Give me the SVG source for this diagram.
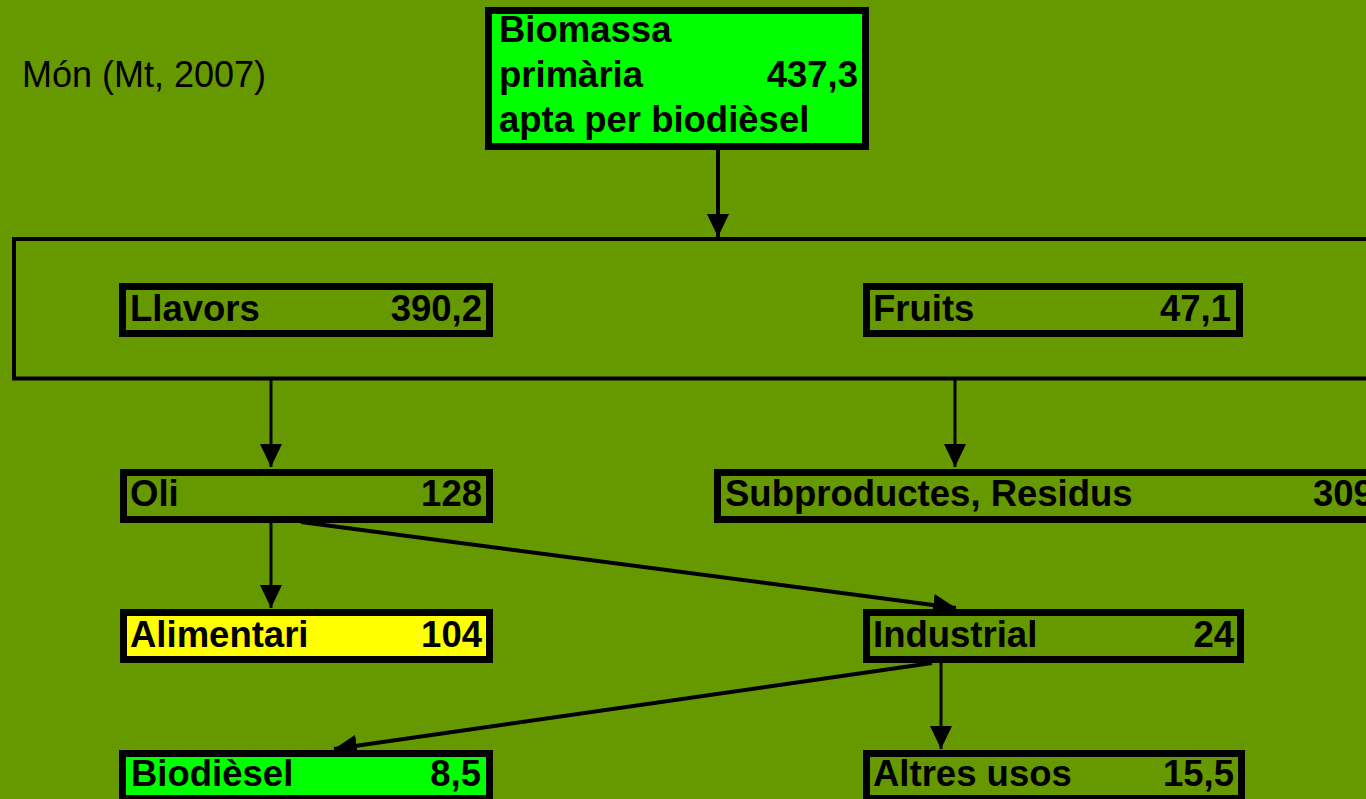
<svg xmlns="http://www.w3.org/2000/svg" width="1366" height="799" viewBox="0 0 1366 799">
  <style>
    .box { stroke: #000; stroke-width: 7; fill: none; }
    .green { fill: #00ff00; }
    .yellow { fill: #ffff00; }
    .lbl { font-family: "Liberation Sans", Arial, sans-serif; font-weight: bold; font-size: 36.5px; fill: #000; }
    .num { text-anchor: end; }
    .note { font-family: "Liberation Sans", Arial, sans-serif; font-size: 36px; fill: #000; }
    .wire { stroke: #000; fill: none; }
    .v { stroke-width: 3; }
    .d { stroke-width: 4; }
  </style>
  <defs>
    <marker id="head" markerUnits="userSpaceOnUse" markerWidth="23" markerHeight="22" refX="23" refY="11" orient="auto">
      <path d="M0,0 L23,11 L0,22 Z" fill="#000"/>
    </marker>
  </defs>

  <rect width="1366" height="799" fill="#669900"/>

  <text class="note" x="22" y="87">Món (Mt, 2007)</text>

  <!-- frame grouping the two raw-material kinds -->
  <rect id="kinds" x="14" y="239" width="1380" height="139.5" fill="none" stroke="#000" stroke-width="4"/>

  <g id="connectors">
    <line class="wire d" x1="718" y1="150" x2="718" y2="237" marker-end="url(#head)"/>
    <line class="wire v" x1="271" y1="380" x2="271" y2="467" marker-end="url(#head)"/>
    <line class="wire v" x1="955" y1="380" x2="955" y2="467" marker-end="url(#head)"/>
    <line class="wire v" x1="271" y1="523" x2="271" y2="608" marker-end="url(#head)"/>
    <line class="wire d" x1="301" y1="522" x2="956" y2="608" marker-end="url(#head)"/>
    <line class="wire d" x1="932" y1="663" x2="334" y2="749" marker-end="url(#head)"/>
    <line class="wire v" x1="941" y1="663" x2="941" y2="749" marker-end="url(#head)"/>
  </g>

  <g id="biomassa">
    <rect class="box green" x="488.5" y="10.5" width="377" height="136"/>
    <text class="lbl" x="499" y="42">Biomassa</text>
    <text class="lbl" x="499" y="87">primària</text>
    <text class="lbl num" x="858" y="87">437,3</text>
    <text class="lbl" x="499" y="132">apta per biodièsel</text>
  </g>

  <g id="llavors">
    <rect class="box" x="122.5" y="286.5" width="367" height="47"/>
    <text class="lbl" x="130" y="321">Llavors</text>
    <text class="lbl num" x="482" y="321">390,2</text>
  </g>

  <g id="fruits">
    <rect class="box" x="866.5" y="286.5" width="373" height="47"/>
    <text class="lbl" x="873" y="321">Fruits</text>
    <text class="lbl num" x="1231" y="321">47,1</text>
  </g>

  <g id="oli">
    <rect class="box" x="123.5" y="472.5" width="366" height="47"/>
    <text class="lbl" x="130" y="506">Oli</text>
    <text class="lbl num" x="482" y="506">128</text>
  </g>

  <g id="subproductes">
    <rect class="box" x="717.5" y="472.5" width="680" height="47"/>
    <text class="lbl" x="725" y="506">Subproductes, Residus</text>
    <text class="lbl" x="1313" y="506">309</text>
  </g>

  <g id="alimentari">
    <rect class="box yellow" x="123.5" y="612.5" width="366" height="47"/>
    <text class="lbl" x="130" y="647">Alimentari</text>
    <text class="lbl num" x="482" y="647">104</text>
  </g>

  <g id="industrial">
    <rect class="box" x="866.5" y="612.5" width="374" height="47"/>
    <text class="lbl" x="873" y="647">Industrial</text>
    <text class="lbl num" x="1234" y="647">24</text>
  </g>

  <g id="biodiesel">
    <rect class="box green" x="122.5" y="753.5" width="367" height="45"/>
    <text class="lbl" x="131" y="786">Biodièsel</text>
    <text class="lbl num" x="481" y="786">8,5</text>
  </g>

  <g id="altres">
    <rect class="box" x="866.5" y="753.5" width="375" height="45"/>
    <text class="lbl" x="873" y="786">Altres usos</text>
    <text class="lbl num" x="1234" y="786">15,5</text>
  </g>
</svg>
